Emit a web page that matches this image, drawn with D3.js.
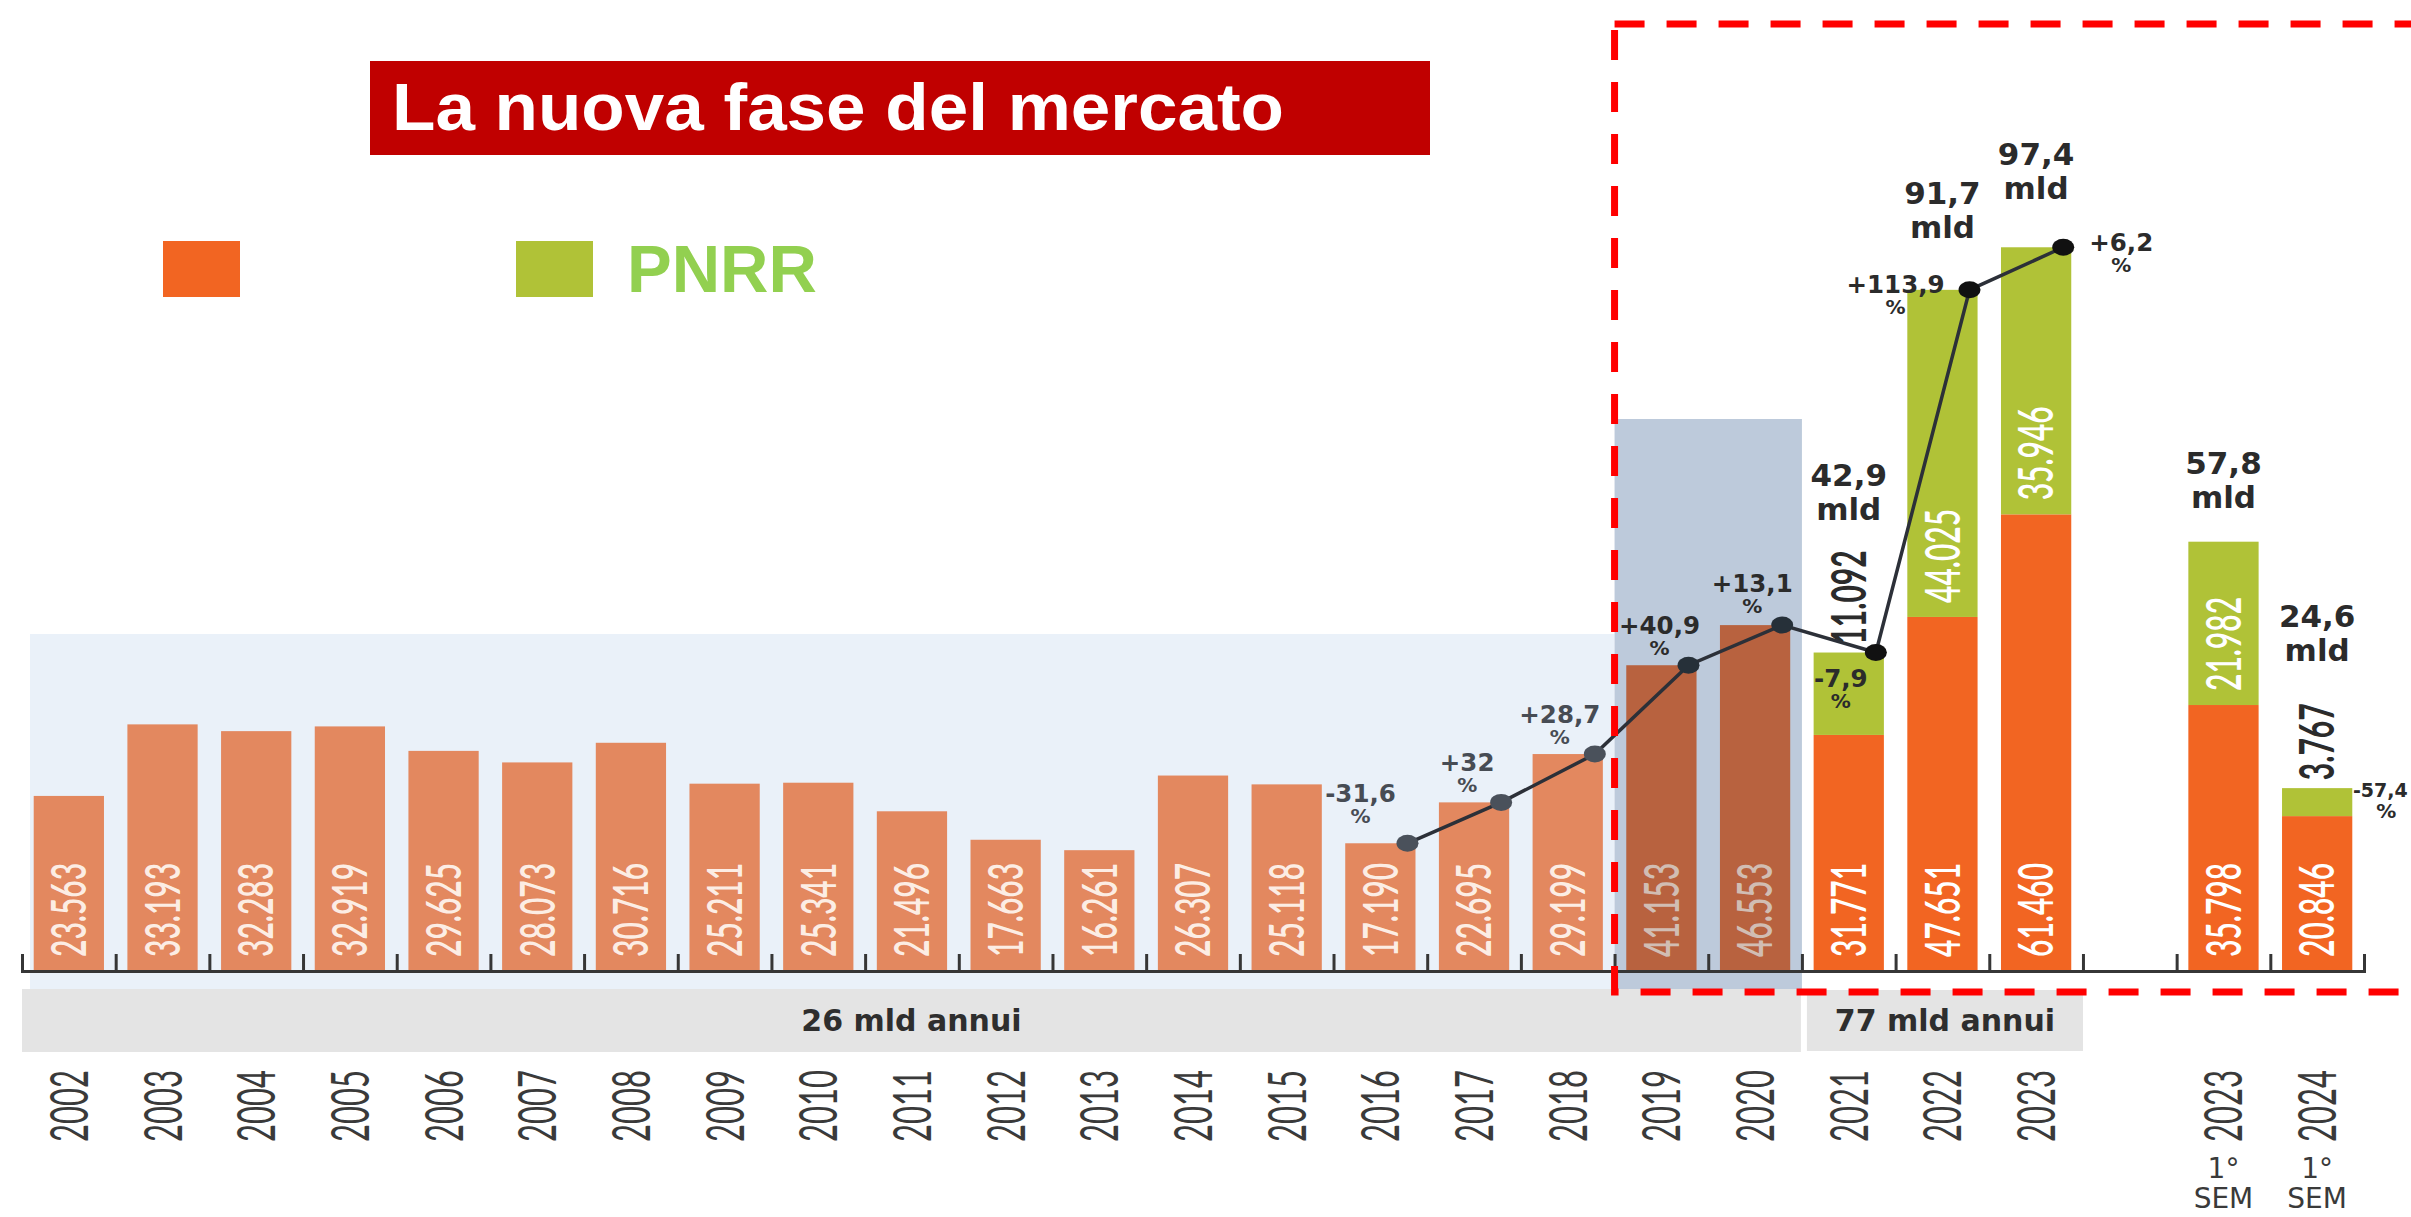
<!DOCTYPE html>
<html>
<head>
<meta charset="utf-8">
<script src="https://cdn.jsdelivr.net/npm/d3@7"></script>
<style>
  body { margin: 0; background: #fff; }
  svg { display: block; }
</style>
</head>
<body>
<svg id="chart"></svg>
<script>
// ---- data (migliaia di milioni) ----
var slots = ['2002','2003','2004','2005','2006','2007','2008','2009','2010','2011','2012','2013',
             '2014','2015','2016','2017','2018','2019','2020','2021','2022','2023','gap','2023-S1','2024-S1'];
var yearLabels = ['2002','2003','2004','2005','2006','2007','2008','2009','2010','2011','2012','2013',
                  '2014','2015','2016','2017','2018','2019','2020','2021','2022','2023','','2023','2024'];
var semSlots = ['2023-S1','2024-S1'];
var semLines = ['1°','SEM'];
var baseValues = [23.563,33.193,32.283,32.919,29.625,28.073,30.716,25.211,25.341,21.496,17.663,16.261,
                  26.307,25.118,17.190,22.695,29.199,41.153,46.553,31.771,47.651,61.460,null,35.798,20.846];
var pnrrValues = [0,0,0,0,0,0,0,0,0,0,0,0,0,0,0,0,0,0,0,11.092,44.025,35.946,null,21.982,3.767];
var lineSlots = ['2016','2017','2018','2019','2020','2021','2022','2023'];
var changeSlots = ['2016','2017','2018','2019','2020','2021','2022','2023','2024-S1'];
var changeLabels = ['-31,6','+32','+28,7','+40,9','+13,1','-7,9','+113,9','+6,2','-57,4'];
var totalSlots = ['2021','2022','2023','2023-S1','2024-S1'];
var periodLabels = ['26 mld annui','77 mld annui'];
var periodFrom = ['2002','2021'];
var periodTo = ['2020','2023'];
var legendLabels = ['', 'PNRR'];
var titleText = 'La nuova fase del mercato';

// ---- layout ----
var width = 2411, height = 1217,
    axisY = 971,
    changeOffset = [[-47,-41],[-34,-31],[-35,-31],[-29,-31],[-30,-33],[-35,34],[-74,3],[58,4],[36,9]],
    totalGap = [30,52,48,34,42],
    stretch = 1.6;

var colLight = '#E3885F', colDark = '#B8623F', colOrange = '#F26522', colGreen = '#B0C237';

var svg = d3.select('#chart')
    .attr('width', width)
    .attr('height', height);

var x = d3.scaleBand()
    .domain(slots)
    .range([22, 2364])
    .paddingInner(0.25)
    .paddingOuter(0.125);
var edge = d3.scaleLinear()
    .domain([0, slots.length])
    .range(x.range());
var y = d3.scaleLinear()
    .domain([0, 100])
    .range([axisY, 228]);

function idx(s) { return slots.indexOf(s); }
function barColor(i) { return i < 17 ? colLight : (i < 19 ? colDark : colOrange); }
function labColor(i) { return i < 17 ? 'rgba(255,248,242,0.92)' : (i < 19 ? '#D1BDB3' : '#fff'); }

var data = slots.map(function(s, i) {
  return {slot: s, i: i, base: baseValues[i], pnrr: pnrrValues[i],
          total: baseValues[i] + (pnrrValues[i] || 0)};
}).filter(function(d) { return d.base != null; });
var byslot = {};
data.forEach(function(d) { byslot[d.slot] = d; });

// ---- title & legend ----
svg.append('rect')
    .attr('x', 370).attr('y', 61).attr('width', 1060).attr('height', 94)
    .attr('fill', '#C00000');
svg.append('text')
    .attr('x', 392).attr('y', 130)
    .attr('font-family', 'Liberation Sans, Arial, sans-serif')
    .attr('font-weight', 'bold')
    .attr('font-size', 66)
    .attr('textLength', 892)
    .attr('lengthAdjust', 'spacingAndGlyphs')
    .attr('fill', '#fff')
    .text(titleText);

var legend = svg.append('g');
legend.selectAll('rect')
    .data(legendLabels).enter()
    .append('rect')
      .attr('x', function(d, i) { return 163 + i * 353; })
      .attr('y', 241)
      .attr('width', 77).attr('height', 56)
      .attr('fill', function(d, i) { return i ? colGreen : colOrange; });
legend.selectAll('text')
    .data(legendLabels).enter()
    .append('text')
      .attr('x', function(d, i) { return 274 + i * 353; })
      .attr('y', 292)
      .attr('font-family', 'Liberation Sans, Arial, sans-serif')
      .attr('font-weight', 'bold')
      .attr('font-size', 67)
      .attr('fill', '#92D050')
      .text(function(d) { return d; });

// ---- background panels ----
svg.append('rect')
    .attr('x', edge(0) + 8).attr('y', 634)
    .attr('width', edge(idx('2019')) - edge(0) - 8).attr('height', 989 - 634)
    .attr('fill', '#EAF1F9');
svg.append('rect')
    .attr('x', edge(idx('2019'))).attr('y', 419)
    .attr('width', edge(idx('2021')) - edge(idx('2019'))).attr('height', 989 - 419)
    .attr('fill', '#BDCADB');

var bands = svg.append('g');
periodLabels.forEach(function(lab, k) {
  var x0 = edge(idx(periodFrom[k])) + (k ? 5 : 0),
      x1 = edge(idx(periodTo[k]) + 1) - (k ? 0 : 1);
  bands.append('rect')
      .attr('x', x0).attr('y', 989 + k)
      .attr('width', x1 - x0).attr('height', 63 - 2 * k)
      .attr('fill', '#E4E4E4');
  bands.append('text')
      .attr('x', (x0 + x1) / 2).attr('y', 1031)
      .attr('text-anchor', 'middle')
      .attr('font-family', 'DejaVu Sans, sans-serif')
      .attr('font-weight', 'bold')
      .attr('font-size', 30)
      .attr('fill', '#2E2E2E')
      .text(lab);
});

// ---- bars ----
var bars = svg.append('g');
bars.selectAll('.base')
    .data(data).enter()
    .append('rect')
      .attr('class', 'base')
      .attr('x', function(d) { return x(d.slot); })
      .attr('y', function(d) { return y(d.base); })
      .attr('width', x.bandwidth())
      .attr('height', function(d) { return y(0) - y(d.base); })
      .attr('fill', function(d) { return barColor(d.i); });
bars.selectAll('.pnrr')
    .data(data.filter(function(d) { return d.pnrr > 0; })).enter()
    .append('rect')
      .attr('class', 'pnrr')
      .attr('x', function(d) { return x(d.slot); })
      .attr('y', function(d) { return y(d.total); })
      .attr('width', x.bandwidth())
      .attr('height', function(d) { return y(d.base) - y(d.total); })
      .attr('fill', colGreen);

var fmt3 = d3.format('.3f');
bars.selectAll('.blab')
    .data(data).enter()
    .append('text')
      .attr('class', 'blab')
      .attr('transform', function(d) {
        return 'translate(' + (x(d.slot) + x.bandwidth() / 2) + ',' + (axisY - 14) + ') rotate(-90) scale(1,' + stretch + ')';
      })
      .attr('dy', '0.36em')
      .attr('font-family', 'Lato, sans-serif')
      .attr('font-weight', 600)
      .attr('font-size', 30)
      .attr('fill', function(d) { return labColor(d.i); })
      .text(function(d) { return fmt3(d.base); });

bars.selectAll('.plab')
    .data(data.filter(function(d) { return d.pnrr > 0; })).enter()
    .append('text')
      .attr('class', 'plab')
      .each(function(d) { d.out = (y(d.base) - y(d.total)) < 120; })
      .attr('transform', function(d) {
        var yy = d.out ? y(d.total) - 8 : y(d.base) - 14;
        return 'translate(' + (x(d.slot) + x.bandwidth() / 2) + ',' + yy + ') rotate(-90) scale(1,' + stretch + ')';
      })
      .attr('dy', '0.36em')
      .attr('font-family', 'Lato, sans-serif')
      .attr('font-weight', function(d) { return d.out ? 'bold' : 600; })
      .attr('font-size', 30)
      .attr('fill', function(d) { return d.out ? '#2B2B2B' : '#fff'; })
      .text(function(d) { return fmt3(d.pnrr); })
      .each(function(d) { d.labLen = this.getComputedTextLength(); });

// ---- axis ----
var axis = svg.append('g')
    .attr('transform', 'translate(0,' + axisY + ')')
    .call(d3.axisBottom(edge)
      .tickValues(d3.range(slots.length + 1))
      .tickSizeInner(-17)
      .tickSizeOuter(-17)
      .tickFormat(''));
axis.selectAll('path, line')
    .attr('stroke', '#363636')
    .attr('stroke-width', 3);

// ---- year labels ----
var years = svg.append('g');
years.selectAll('text')
    .data(slots.filter(function(s, i) { return yearLabels[i]; })).enter()
    .append('text')
      .attr('transform', function(s) {
        return 'translate(' + (x(s) + x.bandwidth() / 2) + ',1142) rotate(-90) scale(1,1.7)';
      })
      .attr('dy', '0.36em')
      .attr('font-family', 'Lato, sans-serif')
      .attr('font-size', 31)
      .attr('fill', '#3A3A3A')
      .text(function(s) { return yearLabels[idx(s)]; });
semSlots.forEach(function(s) {
  semLines.forEach(function(t, k) {
    years.append('text')
        .attr('x', x(s) + x.bandwidth() / 2)
        .attr('y', 1178 + k * 30)
        .attr('text-anchor', 'middle')
        .attr('font-family', 'DejaVu Sans, sans-serif')
        .attr('font-size', 28)
        .attr('fill', '#3A3A3A')
        .text(t);
  });
});

// ---- growth line ----
function px(s) { return x(s) + x.bandwidth() - 8; }
function py(s) { return y(byslot[s].total); }

var line = d3.line()
    .x(function(s) { return px(s); })
    .y(function(s) { return py(s); });
svg.append('path')
    .datum(lineSlots)
    .attr('d', line)
    .attr('fill', 'none')
    .attr('stroke', '#2C3038')
    .attr('stroke-width', 3.5);
svg.selectAll('.dot')
    .data(lineSlots).enter()
    .append('ellipse')
      .attr('class', 'dot')
      .attr('cx', function(s) { return px(s); })
      .attr('cy', function(s) { return py(s); })
      .attr('rx', 11).attr('ry', 8.5)
      .attr('fill', function(s, i) { return i < 3 ? '#4A515B' : (i < 5 ? '#263039' : '#111'); });

var chg = svg.append('g')
    .attr('font-family', 'DejaVu Sans, sans-serif')
    .attr('font-weight', 'bold')
    .attr('text-anchor', 'middle');
changeSlots.forEach(function(s, k) {
  var last = k === changeSlots.length - 1,
      cx = px(s) + changeOffset[k][0], cy = py(s) + changeOffset[k][1],
      c = k < 3 ? '#474C54' : '#2B2B2B';
  chg.append('text')
      .attr('x', cx).attr('y', cy)
      .attr('font-size', last ? 19 : 24.5)
      .attr('fill', c)
      .text(changeLabels[k]);
  chg.append('text')
      .attr('x', cx + (last ? 6 : 0)).attr('y', cy + 21)
      .attr('font-size', 20)
      .attr('fill', c)
      .text('%');
});

// ---- totals ----
var fmt1 = d3.format('.1f');
var tot = svg.append('g')
    .attr('font-family', 'DejaVu Sans, sans-serif')
    .attr('font-weight', 'bold')
    .attr('font-size', 31)
    .attr('fill', '#2B2B2B')
    .attr('text-anchor', 'middle');
totalSlots.forEach(function(s, k) {
  var d = byslot[s],
      top = d.out ? y(d.total) - 8 - d.labLen : y(d.total),
      mldY = top - totalGap[k],
      cx = x(s) + x.bandwidth() / 2;
  tot.append('text').attr('x', cx).attr('y', mldY - 34)
      .text(fmt1(d.total).replace('.', ','));
  tot.append('text').attr('x', cx).attr('y', mldY)
      .text('mld');
});

// ---- red dashed frame ----
svg.append('rect')
    .attr('x', edge(idx('2019'))).attr('y', 24)
    .attr('width', 1000).attr('height', 992 - 24)
    .attr('fill', 'none')
    .attr('stroke', '#FF0000')
    .attr('stroke-width', 7)
    .attr('stroke-dasharray', '30 22');
</script>
</body>
</html>
